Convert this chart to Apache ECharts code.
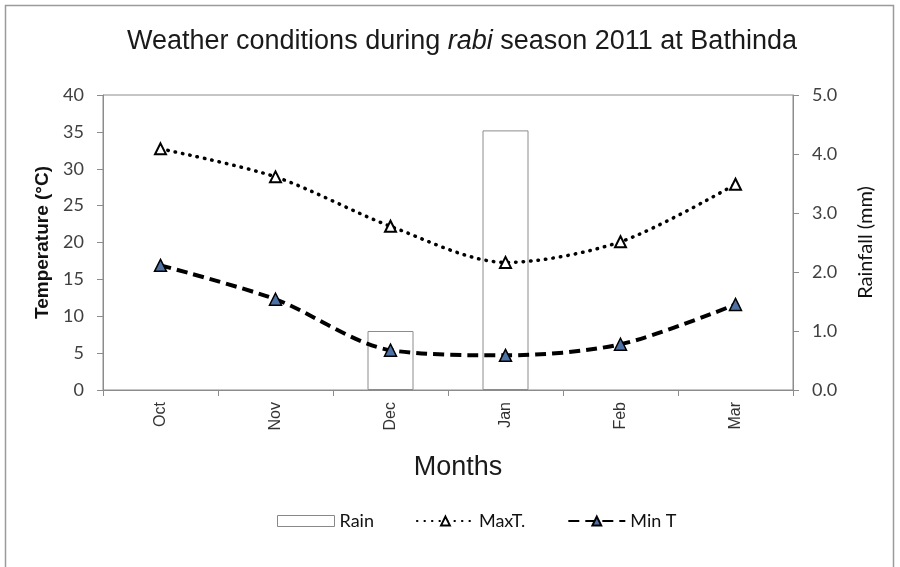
<!DOCTYPE html>
<html>
<head>
<meta charset="utf-8">
<script src="https://cdn.jsdelivr.net/npm/echarts@6/dist/echarts.min.js"></script>
<style>
html,body{margin:0;padding:0;background:#fff;}
#chart{width:900px;height:567px;}
</style>
</head>
<body>
<div id="chart"></div>
<script>
const months = ['Oct', 'Nov', 'Dec', 'Jan', 'Feb', 'Mar'];
const rain = [0, 0, 1.0, 4.4, 0, 0];
const maxT = [32.7, 28.9, 22.2, 17.3, 20.1, 27.9];
const minT = [16.9, 12.3, 5.4, 4.7, 6.2, 11.6];
const tempTicks = [0, 5, 10, 15, 20, 25, 30, 35, 40];
const rainTicks = [0, 1, 2, 3, 4, 5];

const chart = echarts.init(document.getElementById('chart'), null, {renderer: 'canvas'});
const axisGray = '#8c8c8c';
const labelFont = 'Lato, "Open Sans", sans-serif';
const arial = '"Liberation Sans", Arial, sans-serif';
chart.setOption({
  backgroundColor: '#fff',
  animation: false,
  graphic: [{
    type: 'rect', silent: true,
    shape: {x: 5.5, y: 5.5, width: 888, height: 580},
    style: {fill: 'none', stroke: '#9a9a9a', lineWidth: 1.5}
  }],
  title: {
    text: 'Weather conditions during {i|rabi} season 2011 at Bathinda',
    left: 122, top: 23,
    textStyle: {
      fontFamily: arial, fontSize: 27, fontWeight: 'normal', color: '#1a1a1a',
      rich: {i: {fontFamily: arial, fontSize: 27, fontStyle: 'italic', color: '#1a1a1a'}}
    }
  },
  legend: {
    bottom: 32, left: 272,
    itemWidth: 57, itemHeight: 11, itemGap: 42,
    textStyle: {fontFamily: labelFont, fontSize: 18, color: '#111'},
    data: [
      {name: 'Rain', icon: 'rect', itemStyle: {color: '#fff', borderColor: '#888', borderWidth: 1}},
      {name: 'MaxT.'},
      {name: 'Min T'}
    ]
  },
  grid: {left: 103, right: 107, top: 95, bottom: 177, show: true, borderColor: axisGray, borderWidth: 1, backgroundColor: 'transparent'},
  xAxis: {
    type: 'category', data: months, boundaryGap: true,
    name: 'Months', nameLocation: 'middle', nameGap: 64,
    nameTextStyle: {fontFamily: arial, fontSize: 27, color: '#1a1a1a', padding: [0, 0, 0, 20]},
    axisLine: {lineStyle: {color: axisGray, width: 1}},
    axisTick: {show: true, inside: false, length: 6, lineStyle: {color: axisGray}},
    axisLabel: {rotate: 90, margin: 12, fontFamily: arial, fontSize: 16, color: '#333'}
  },
  yAxis: [{
    type: 'value', min: 0, max: 40, interval: 5,
    name: 'Temperature (°C)', nameLocation: 'middle', nameGap: 50, nameRotate: 90,
    nameTextStyle: {fontFamily: arial, fontSize: 19, fontWeight: 'bold', color: '#111'},
    axisLine: {show: true, lineStyle: {color: axisGray}},
    axisTick: {show: true, length: 6, lineStyle: {color: axisGray}},
    splitLine: {show: false},
    axisLabel: {margin: 19, fontFamily: labelFont, fontSize: 18, color: '#404040',
      formatter: v => tempTicks.includes(v) ? String(v) : ''}
  }, {
    type: 'value', min: 0, max: 5, interval: 1, position: 'right',
    name: 'Rainfall (mm)', nameLocation: 'middle', nameGap: 63, nameRotate: 90,
    nameTextStyle: {fontFamily: labelFont, fontSize: 20, color: '#111'},
    axisLine: {show: true, lineStyle: {color: axisGray}},
    axisTick: {show: true, length: 6, lineStyle: {color: axisGray}},
    splitLine: {show: false},
    axisLabel: {margin: 19, fontFamily: labelFont, fontSize: 18, color: '#404040',
      formatter: v => rainTicks.includes(v) ? v.toFixed(1) : ''}
  }],
  series: [{
    name: 'Rain', type: 'bar', yAxisIndex: 1, barWidth: 46,
    data: rain.map(v => v > 0 ? v : {value: v, itemStyle: {borderWidth: 0, opacity: 0}}),
    itemStyle: {color: '#fff', borderColor: '#8c8c8c', borderWidth: 1}
  }, {
    name: 'MaxT.', type: 'line', yAxisIndex: 0, data: maxT, smooth: 0.3,
    symbol: 'triangle', symbolSize: 11,
    lineStyle: {color: '#000', width: 3.5, type: [0.5, 7], cap: 'round'},
    itemStyle: {color: '#fff', borderColor: '#000', borderWidth: 2}
  }, {
    name: 'Min T', type: 'line', yAxisIndex: 0, data: minT, smooth: 0.3,
    symbol: 'triangle', symbolSize: 12,
    lineStyle: {color: '#000', width: 4, type: [11, 6]},
    itemStyle: {color: '#4f72a6', borderColor: '#000', borderWidth: 1.5}
  }]
});
</script>
</body>
</html>
